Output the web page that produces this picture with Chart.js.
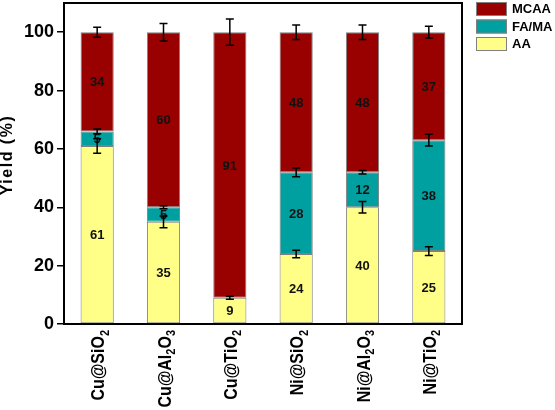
<!DOCTYPE html>
<html>
<head>
<meta charset="utf-8">
<script src="https://cdn.jsdelivr.net/npm/chart.js@4.4.1/dist/chart.umd.min.js"></script>
<style>
  html, body { margin: 0; padding: 0; background: #fff; }
  #wrap { width: 555px; height: 410px; }
</style>
</head>
<body>
<div id="wrap"><canvas id="yieldChart" width="555" height="410"></canvas></div>
<script>
const categories = ["Cu@SiO2", "Cu@Al2O3", "Cu@TiO2", "Ni@SiO2", "Ni@Al2O3", "Ni@TiO2"];
const aaValues = [61, 35, 9, 24, 40, 25];
const famaValues = [5, 5, 0, 28, 12, 38];
const mcaaValues = [34, 60, 91, 48, 48, 37];
const aaErrors = [2.5, 2, 0.5, 1.3, 2, 1.5];
const famaErrors = [0.8, 0.5, 0, 1.5, 0.6, 2];
const mcaaErrors = [1.7, 3, 4.5, 2.5, 2.5, 2];
const yTickValues = [0, 20, 40, 60, 80, 100];

const BOLD = "Arial, 'Liberation Sans', sans-serif";

// value text in the middle of each stacked segment
const segmentLabels = {
    id: "segmentLabels",
    afterDatasetsDraw(chart) {
        const { ctx } = chart;
        ctx.save();
        ctx.font = `bold 13px ${BOLD}`;
        ctx.fillStyle = "#111";
        ctx.textAlign = "center";
        ctx.textBaseline = "middle";
        chart.data.datasets.forEach((ds, i) => {
            chart.getDatasetMeta(i).data.forEach((bar, j) => {
                const v = ds.data[j];
                if (!v) return;
                ctx.fillText(String(v), bar.x, (bar.y + bar.base) / 2 + 1);
            });
        });
        ctx.restore();
    }
};

// error bars at the top of every segment
const errorBars = {
    id: "errorBars",
    afterDatasetsDraw(chart) {
        const { ctx, scales: { y } } = chart;
        ctx.save();
        ctx.strokeStyle = "#000";
        ctx.lineWidth = 1.5;
        chart.data.datasets.forEach((ds, i) => {
            chart.getDatasetMeta(i).data.forEach((bar, j) => {
                const err = ds.errors[j];
                if (!err) return;
                const d = y.getPixelForValue(0) - y.getPixelForValue(err);
                ctx.beginPath();
                ctx.moveTo(bar.x, bar.y - d);
                ctx.lineTo(bar.x, bar.y + d);
                ctx.moveTo(bar.x - 4, bar.y - d);
                ctx.lineTo(bar.x + 4, bar.y - d);
                ctx.moveTo(bar.x - 4, bar.y + d);
                ctx.lineTo(bar.x + 4, bar.y + d);
                ctx.stroke();
            });
        });
        ctx.restore();
    }
};

// box frame, rotated category names with subscripts, y title, legend
const decorations = {
    id: "decorations",
    afterDraw(chart) {
        const { ctx, chartArea: a, scales: { x } } = chart;
        ctx.save();
        ctx.strokeStyle = "#000";
        ctx.lineWidth = 2;
        ctx.beginPath();
        ctx.moveTo(a.left, a.top);
        ctx.lineTo(a.right, a.top);
        ctx.lineTo(a.right, a.bottom);
        ctx.stroke();

        // category labels
        ctx.fillStyle = "#000";
        ctx.textBaseline = "middle";
        categories.forEach((label, i) => {
            const parts = label.split("").map(ch => ({ ch, sub: /\d/.test(ch) }));
            const widthOf = p => {
                ctx.font = p.sub ? `bold 11px ${BOLD}` : `bold 16px ${BOLD}`;
                return ctx.measureText(p.ch).width;
            };
            const total = parts.reduce((s, p) => s + widthOf(p), 0);
            ctx.save();
            ctx.translate(x.getPixelForTick(i) + 2, a.bottom + 6);
            ctx.rotate(-Math.PI / 2);
            ctx.scale(1, 1.2);
            let pos = -total;
            parts.forEach(p => {
                const w = widthOf(p);
                ctx.textAlign = "left";
                ctx.fillText(p.ch, pos, p.sub ? 5 : 0);
                pos += w;
            });
            ctx.restore();
        });

        // y title
        ctx.save();
        ctx.translate(8, 155);
        ctx.rotate(-Math.PI / 2);
        ctx.font = `bold 16px ${BOLD}`;
        ctx.letterSpacing = "1.5px";
        ctx.textAlign = "center";
        ctx.fillText("Yield (%)", 0, 0);
        ctx.restore();

        // legend, top item = last dataset
        const items = chart.data.datasets.slice().reverse();
        items.forEach((ds, k) => {
            const top = 2 + k * 17.5;
            ctx.fillStyle = ds.backgroundColor;
            ctx.fillRect(476, top, 31, 14);
            ctx.strokeStyle = "#808080";
            ctx.lineWidth = 1;
            ctx.strokeRect(476.5, top + 0.5, 30, 13);
            ctx.fillStyle = "#000";
            ctx.font = `bold 13px ${BOLD}`;
            ctx.textAlign = "left";
            ctx.textBaseline = "middle";
            ctx.fillText(ds.label, 512, top + 7.5);
        });
        ctx.restore();
    }
};

const makeSet = (label, data, errors, color) => ({
    label,
    data,
    errors,
    backgroundColor: color,
    borderColor: "#7f7f7f",
    borderWidth: 1,
    borderSkipped: false,
    barPercentage: 0.5,
    categoryPercentage: 1
});

new Chart(document.getElementById("yieldChart"), {
    type: "bar",
    data: {
        labels: categories,
        datasets: [
            makeSet("AA", aaValues, aaErrors, "#ffff88"),
            makeSet("FA/MA", famaValues, famaErrors, "#00a0a0"),
            makeSet("MCAA", mcaaValues, mcaaErrors, "#990000")
        ]
    },
    options: {
        responsive: false,
        animation: false,
        devicePixelRatio: 1,
        layout: { padding: { top: 3, right: 93, left: 0, bottom: 0 } },
        plugins: {
            legend: { display: false },
            tooltip: { enabled: false }
        },
        scales: {
            x: {
                stacked: true,
                grid: { display: false },
                border: { display: true, color: "#000", width: 2 },
                ticks: { display: false },
                afterFit: scale => { scale.height = 86; }
            },
            y: {
                stacked: true,
                min: 0,
                max: 110,
                afterBuildTicks: scale => {
                    scale.ticks = yTickValues.map(value => ({ value }));
                },
                grid: { drawOnChartArea: false, drawTicks: true, tickLength: 7, color: "#000", lineWidth: 1.5 },
                border: { display: true, color: "#000", width: 2 },
                ticks: {
                    color: "#000",
                    padding: 3,
                    font: { family: BOLD, size: 18, weight: "bold" }
                },
                afterFit: scale => {
                    scale.width = 64;
                    scale.paddingTop = 0;
                    scale.paddingBottom = 0;
                }
            }
        }
    },
    plugins: [segmentLabels, errorBars, decorations]
});
</script>
</body>
</html>
